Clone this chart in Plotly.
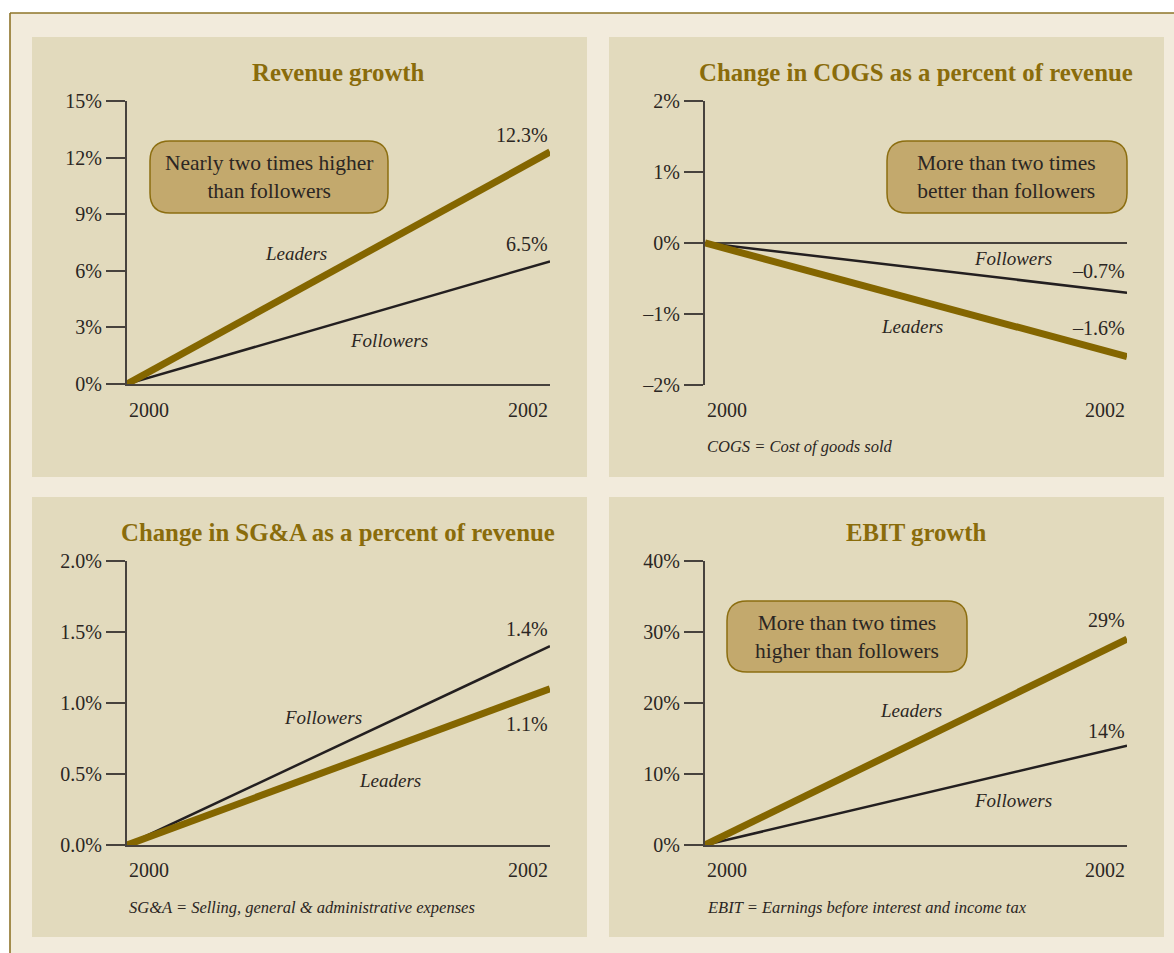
import plotly.graph_objects as go

# ---------------- data ----------------
years = [2000, 2002]
year_labels = ["2000", "2002"]

titles = ["Revenue growth",
          "Change in COGS as a percent of revenue",
          "Change in SG&A as a percent of revenue",
          "EBIT growth"]

rev_leaders = [0, 12.3]
rev_followers = [0, 6.5]
cogs_leaders = [0, -1.6]
cogs_followers = [0, -0.7]
sga_leaders = [0, 1.1]
sga_followers = [0, 1.4]
ebit_leaders = [0, 29]
ebit_followers = [0, 14]

rev_ticks = [0, 3, 6, 9, 12, 15]
rev_ticktext = ["0%", "3%", "6%", "9%", "12%", "15%"]
cogs_ticks = [-2, -1, 0, 1, 2]
cogs_ticktext = ["\u20132%", "\u20131%", "0%", "1%", "2%"]
sga_ticks = [0, 0.5, 1.0, 1.5, 2.0]
sga_ticktext = ["0.0%", "0.5%", "1.0%", "1.5%", "2.0%"]
ebit_ticks = [0, 10, 20, 30, 40]
ebit_ticktext = ["0%", "10%", "20%", "30%", "40%"]

rev_end_labels = ["12.3%", "6.5%"]
cogs_end_labels = ["\u20131.6%", "\u20130.7%"]
sga_end_labels = ["1.1%", "1.4%"]
ebit_end_labels = ["29%", "14%"]

callouts = ["Nearly two times higher<br>than followers",
            "More than two times<br>better than followers",
            None,
            "More than two times<br>higher than followers"]
footnotes = [None,
             "COGS = Cost of goods sold",
             "SG&amp;A = Selling, general &amp; administrative expenses",
             "EBIT = Earnings before interest and income tax"]

# ---------------- style ----------------
W, H = 1174, 953
FONT = "Liberation Serif"
CREAM = "#f2ebdc"
PANEL = "#e2dabd"
OLIVE = "#8a6c0b"
LEAD = "#846600"
BOXFILL = "#c3a96d"
BOXLINE = "#8c6e10"
TXT = "#2b2623"
AXC = "#47423d"


def fx(p):
    return p / W


def fy(p):
    return 1 - p / H


def rrect(x0, y0, x1, y1, r):
    def P(x, y):
        return f"{fx(x):.5f},{fy(y):.5f}"
    return (f"M{P(x0 + r, y0)} L{P(x1 - r, y0)} Q{P(x1, y0)} {P(x1, y0 + r)} "
            f"L{P(x1, y1 - r)} Q{P(x1, y1)} {P(x1 - r, y1)} "
            f"L{P(x0 + r, y1)} Q{P(x0, y1)} {P(x0, y1 - r)} "
            f"L{P(x0, y0 + r)} Q{P(x0, y0)} {P(x0 + r, y0)} Z")


panels = [
    dict(bg=(32, 37, 587, 477), box=(127, 550, 101, 384), yr=[0, 15],
         ticks=rev_ticks, tt=rev_ticktext, lead=rev_leaders, foll=rev_followers,
         ends=rev_end_labels, zero=False,
         callbox=(150, 141, 388, 213),
         names=[("Leaders", 296, 254), ("Followers", 389, 340)],
         endshift=[(4, "bottom"), (4, "bottom")], title_y=72, xlab_y=410,
         foot_y=None),
    dict(bg=(609, 37, 1164, 477), box=(705, 1127, 101, 385), yr=[-2, 2],
         ticks=cogs_ticks, tt=cogs_ticktext, lead=cogs_leaders, foll=cogs_followers,
         ends=cogs_end_labels, zero=True,
         callbox=(887, 141, 1127, 213),
         names=[("Leaders", 912, 326), ("Followers", 1013, 259)],
         endshift=[(16, "bottom"), (9, "bottom")], title_y=72, xlab_y=410,
         foot_y=446),
    dict(bg=(32, 497, 587, 937), box=(127, 550, 561, 845), yr=[0, 2],
         ticks=sga_ticks, tt=sga_ticktext, lead=sga_leaders, foll=sga_followers,
         ends=sga_end_labels, zero=False,
         callbox=None,
         names=[("Leaders", 390, 780), ("Followers", 323, 717)],
         endshift=[(-22, "top"), (4, "bottom")], title_y=532, xlab_y=870,
         foot_y=907),
    dict(bg=(609, 497, 1164, 937), box=(705, 1127, 561, 845), yr=[0, 40],
         ticks=ebit_ticks, tt=ebit_ticktext, lead=ebit_leaders, foll=ebit_followers,
         ends=ebit_end_labels, zero=False,
         callbox=(727, 601, 967, 672),
         names=[("Leaders", 911, 710), ("Followers", 1013, 800)],
         endshift=[(6, "bottom"), (2, "bottom")], title_y=532, xlab_y=870,
         foot_y=907),
]

fig = go.Figure()
shapes = []
annotations = []

shapes.append(dict(type="rect", xref="paper", yref="paper", x0=fx(10), x1=1, y0=0, y1=fy(13),
                   fillcolor=CREAM, line=dict(width=0), layer="below"))
shapes.append(dict(type="line", xref="paper", yref="paper", x0=fx(10), x1=1, y0=fy(13), y1=fy(13),
                   line=dict(color="#8e7428", width=1.6), layer="below"))
shapes.append(dict(type="line", xref="paper", yref="paper", x0=fx(10), x1=fx(10), y0=0, y1=fy(13),
                   line=dict(color="#8e7428", width=1.6), layer="below"))

layout_axes = {}
for i, p in enumerate(panels):
    n = i + 1
    xa = "x" if n == 1 else f"x{n}"
    ya = "y" if n == 1 else f"y{n}"
    xkey = "xaxis" if n == 1 else f"xaxis{n}"
    ykey = "yaxis" if n == 1 else f"yaxis{n}"
    bx0, by0, bx1, by1 = p["bg"]
    shapes.append(dict(type="rect", xref="paper", yref="paper", x0=fx(bx0), x1=fx(bx1),
                       y0=fy(by1), y1=fy(by0), fillcolor=PANEL, line=dict(width=0),
                       layer="below"))
    l, r, t, b = p["box"]
    layout_axes[xkey] = dict(domain=[fx(l), fx(r)], range=[years[0], years[-1]],
                             anchor=ya, showgrid=False, zeroline=False,
                             showticklabels=False, ticks="", automargin=False,
                             showline=not p["zero"], linecolor=AXC, linewidth=2,
                             fixedrange=True)
    layout_axes[ykey] = dict(domain=[fy(b), fy(t)], range=p["yr"], anchor=xa,
                             showgrid=False, zeroline=p["zero"], zerolinecolor=AXC,
                             zerolinewidth=2, showline=True, linecolor=AXC, linewidth=2,
                             ticks="outside", ticklen=19, tickwidth=2, tickcolor=AXC,
                             tickvals=p["ticks"], ticktext=p["tt"], automargin=False,
                             tickfont=dict(family=FONT, size=20, color=TXT),
                             fixedrange=True)
    fig.add_trace(go.Scatter(x=years, y=p["foll"], mode="lines", xaxis=xa, yaxis=ya,
                             line=dict(color="#231f20", width=2.5), hoverinfo="skip",
                             showlegend=False))
    fig.add_trace(go.Scatter(x=years, y=p["lead"], mode="lines", xaxis=xa, yaxis=ya,
                             line=dict(color=LEAD, width=7), hoverinfo="skip",
                             showlegend=False))
    annotations.append(dict(xref="paper", yref="paper", x=fx((l + r) / 2),
                            y=fy(p["title_y"]), text=f"<b>{titles[i].replace('&', '&amp;')}</b>",
                            showarrow=False, xanchor="center", yanchor="middle",
                            font=dict(family=FONT, size=24.8, color=OLIVE)))
    annotations.append(dict(xref=xa, yref="paper", x=years[0], y=fy(p["xlab_y"]),
                            text=year_labels[0], showarrow=False, xanchor="left",
                            yanchor="middle", font=dict(family=FONT, size=20, color=TXT)))
    annotations.append(dict(xref=xa, yref="paper", x=years[-1], y=fy(p["xlab_y"]),
                            text=year_labels[-1], showarrow=False, xanchor="right",
                            yanchor="middle", font=dict(family=FONT, size=20, color=TXT)))
    for vals, lab, (sh, anc) in zip([p["lead"], p["foll"]], p["ends"], p["endshift"]):
        annotations.append(dict(xref=xa, yref=ya, x=years[-1], y=vals[-1], text=lab,
                                showarrow=False, xanchor="right", yanchor=anc, yshift=sh,
                                font=dict(family=FONT, size=20, color=TXT)))
    for name, nx, ny in p["names"]:
        annotations.append(dict(xref="paper", yref="paper", x=fx(nx), y=fy(ny),
                                text=f"<i>{name}</i>", showarrow=False, xanchor="center",
                                yanchor="middle", font=dict(family=FONT, size=19, color=TXT)))
    if p["callbox"] is not None and callouts[i]:
        cx0, cy0, cx1, cy1 = p["callbox"]
        shapes.append(dict(type="path", xref="paper", yref="paper",
                           path=rrect(cx0, cy0, cx1, cy1, 20), fillcolor=BOXFILL,
                           line=dict(color=BOXLINE, width=1.5), layer="below"))
        annotations.append(dict(xref="paper", yref="paper", x=fx((cx0 + cx1) / 2),
                                y=fy((cy0 + cy1) / 2), text=callouts[i], showarrow=False,
                                xanchor="center", yanchor="middle",
                                font=dict(family=FONT, size=21.5, color=TXT)))
    if footnotes[i]:
        annotations.append(dict(xref="paper", yref="paper", x=fx(l), y=fy(p["foot_y"]),
                                text=f"<i>{footnotes[i]}</i>", showarrow=False,
                                xanchor="left", yanchor="middle",
                                font=dict(family=FONT, size=16.5, color=TXT)))

fig.update_layout(width=W, height=H, autosize=False,
                  margin=dict(l=0, r=0, t=0, b=0, pad=0, autoexpand=False),
                  paper_bgcolor="white", plot_bgcolor="rgba(0,0,0,0)",
                  shapes=shapes, annotations=annotations, showlegend=False,
                  **layout_axes)

fig.write_html("out.html", config={"displayModeBar": False})
